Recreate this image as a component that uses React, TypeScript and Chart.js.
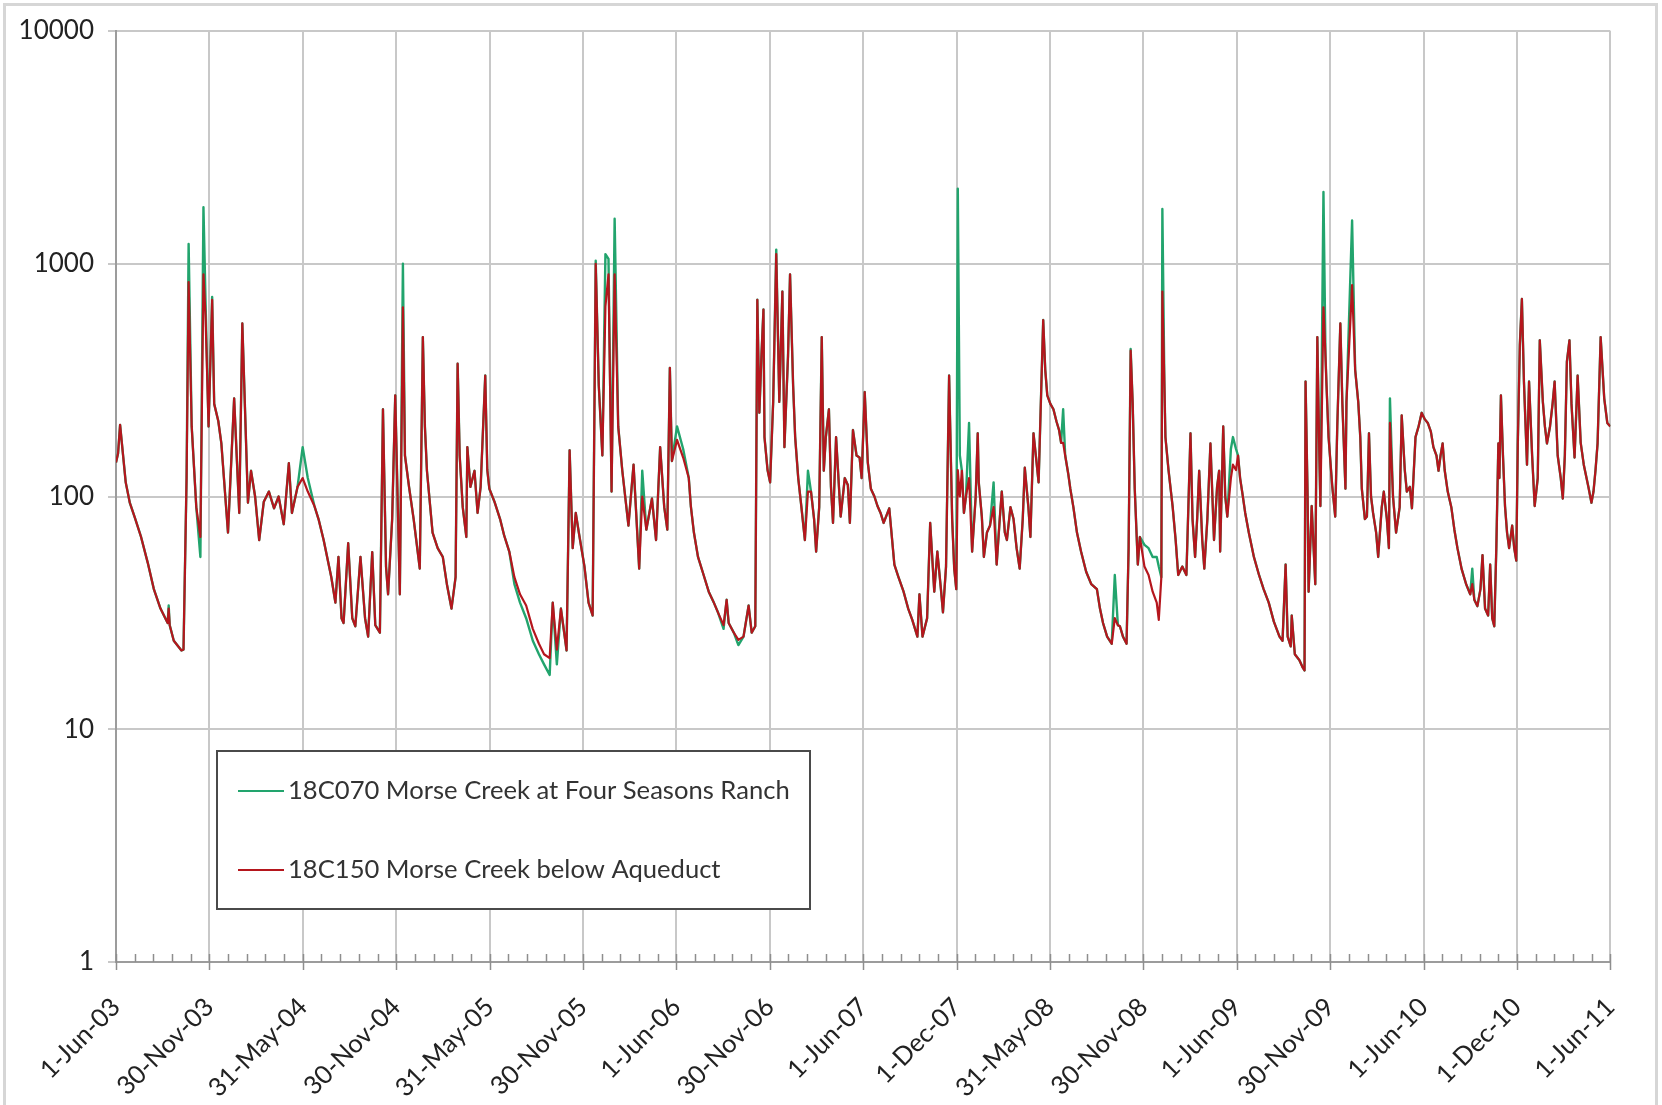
import React, { useEffect, useRef } from "react";
import { Chart, registerables } from "chart.js";

Chart.register(...registerables);

// Daily discharge, Morse Creek gauges, 1 Jun 2003 – 1 Jun 2011 (log scale)
const seriesNames = [
  "18C070 Morse Creek at Four Seasons Ranch",
  "18C150 Morse Creek below Aqueduct",
];
const seriesColors = ["#22a46d", "#b5161d"];

const dateLabels = [
  "1-Jun-03", "30-Nov-03", "31-May-04", "30-Nov-04", "31-May-05", "30-Nov-05",
  "1-Jun-06", "30-Nov-06", "1-Jun-07", "1-Dec-07", "31-May-08", "30-Nov-08",
  "1-Jun-09", "30-Nov-09", "1-Jun-10", "1-Dec-10", "1-Jun-11",
];
const totalDays = 2922; // 1-Jun-03 .. 1-Jun-11
const yTickValues = [1, 10, 100, 1000, 10000];

// days since 1-Jun-03
const dayOffsets = [
  0, 4, 8, 19, 27, 37, 49, 62, 74, 87,
  101, 103, 105, 113, 128, 132, 138, 142, 148, 157,
  165, 171, 175, 181, 188, 192, 200, 206, 219, 231,
  241, 247, 258, 264, 272, 280, 289, 299, 309, 318,
  328, 338, 344, 355, 365, 375, 388, 396, 406, 421,
  429, 435, 441, 445, 454, 462, 468, 478, 487, 493,
  501, 507, 516, 522, 528, 532, 540, 546, 555, 561,
  565, 573, 582, 594, 600, 604, 608, 619, 629, 639,
  647, 656, 664, 668, 672, 678, 685, 687, 693, 701,
  707, 713, 722, 726, 730, 740, 751, 759, 769, 779,
  790, 802, 815, 827, 837, 848, 854, 862, 870, 881,
  887, 893, 899, 905, 916, 924, 932, 938, 944, 951,
  957, 963, 969, 975, 982, 990, 1002, 1012, 1023, 1029,
  1037, 1048, 1056, 1064, 1072, 1078, 1083, 1087, 1097, 1109,
  1120, 1124, 1130, 1138, 1149, 1159, 1169, 1177, 1188, 1194,
  1198, 1208, 1217, 1227, 1237, 1243, 1250, 1254, 1258, 1262,
  1266, 1268, 1274, 1279, 1285, 1291, 1297, 1303, 1307, 1314,
  1318, 1324, 1328, 1334, 1340, 1347, 1353, 1359, 1365, 1369,
  1375, 1380, 1384, 1388, 1394, 1398, 1402, 1408, 1417, 1425,
  1431, 1435, 1441, 1448, 1454, 1458, 1464, 1470, 1476, 1483,
  1489, 1495, 1501, 1512, 1522, 1530, 1540, 1549, 1557, 1567,
  1571, 1577, 1586, 1592, 1600, 1606, 1613, 1617, 1623, 1629,
  1635, 1639, 1643, 1646, 1650, 1654, 1658, 1662, 1668, 1674,
  1681, 1685, 1687, 1693, 1697, 1703, 1709, 1716, 1722, 1728,
  1732, 1738, 1742, 1749, 1755, 1761, 1767, 1773, 1777, 1784,
  1788, 1794, 1800, 1804, 1813, 1817, 1821, 1827, 1833, 1839,
  1844, 1848, 1852, 1856, 1862, 1866, 1872, 1879, 1887, 1897,
  1907, 1918, 1924, 1930, 1938, 1947, 1953, 1959, 1963, 1969,
  1976, 1980, 1984, 1988, 1992, 1998, 2002, 2011, 2019, 2027,
  2035, 2039, 2044, 2046, 2050, 2052, 2058, 2066, 2072, 2077,
  2085, 2093, 2101, 2105, 2110, 2114, 2118, 2124, 2128, 2134,
  2140, 2147, 2153, 2157, 2159, 2165, 2169, 2173, 2180, 2184,
  2190, 2194, 2198, 2202, 2208, 2215, 2225, 2235, 2244, 2254,
  2264, 2275, 2281, 2287, 2291, 2297, 2299, 2305, 2314, 2320,
  2324, 2326, 2330, 2332, 2338, 2345, 2349, 2353, 2355, 2361,
  2365, 2367, 2371, 2378, 2384, 2388, 2394, 2398, 2404, 2406,
  2417, 2423, 2429, 2433, 2436, 2442, 2446, 2450, 2454, 2458,
  2464, 2468, 2475, 2479, 2485, 2489, 2491, 2497, 2503, 2510,
  2514, 2520, 2524, 2530, 2534, 2541, 2547, 2553, 2559, 2565,
  2571, 2576, 2582, 2586, 2590, 2594, 2598, 2604, 2611, 2617,
  2623, 2631, 2640, 2648, 2652, 2656, 2662, 2668, 2672, 2677,
  2683, 2687, 2691, 2695, 2699, 2703, 2705, 2708, 2712, 2716,
  2720, 2724, 2730, 2734, 2738, 2741, 2745, 2749, 2753, 2759,
  2763, 2769, 2774, 2780, 2784, 2790, 2794, 2798, 2804, 2809,
  2813, 2819, 2825, 2829, 2833, 2837, 2842, 2846, 2852, 2858,
  2864, 2870, 2879, 2885, 2889, 2893, 2897, 2903, 2910, 2916,
  2922,
];

// 18C070 Morse Creek at Four Seasons Ranch
const flowFourSeasons = [
  140, 153, 203, 115, 94, 81, 67, 52, 40, 33,
  28.6, 34, 28, 24, 21.8, 22, 120, 1216, 200, 90,
  55, 1750, 700, 200, 720, 250, 211, 169, 70, 264,
  85, 554, 94, 129, 100, 65, 95, 105, 89, 100,
  76, 139, 85, 110, 163, 120, 91, 80, 65, 45,
  35, 55, 30, 28.6, 63, 30, 27.7, 55, 30, 25,
  57.7, 28, 26, 237, 50, 38, 80, 272, 38, 1000,
  150, 110, 80, 49, 484, 200, 129, 70, 60, 55,
  42, 33, 45, 372, 150, 90, 67, 163, 110, 129,
  85, 110, 331, 130, 108, 95, 80, 68, 58, 42,
  35, 30, 24, 21, 19, 17.1, 35, 19, 33, 21.8,
  158, 60, 85, 70, 50, 35, 30.8, 1030, 300, 150,
  1100, 1050, 105, 1560, 200, 129, 75, 137, 49, 129,
  72, 98, 65, 163, 90, 72, 357, 142, 200, 160,
  120, 91, 70, 55, 46, 39, 35, 31.8, 27, 36,
  28.6, 26, 23, 25, 34, 26, 27.7, 700, 229, 400,
  636, 180, 130, 115, 255, 1150, 255, 760, 163, 400,
  900, 300, 180, 120, 91, 65, 129, 105, 80, 58,
  90, 484, 129, 180, 237, 110, 77, 180, 82, 120,
  112, 77, 193, 150, 147, 120, 281, 140, 108, 100,
  91, 85, 77, 89, 51, 45, 39, 33, 29.5, 25,
  38, 25, 30, 77, 39, 58, 40, 31.8, 50, 331,
  80, 49, 40, 2100, 150, 129, 85, 100, 207, 58,
  100, 187, 115, 82, 55, 70, 75, 115, 51, 80,
  105, 70, 65, 90, 80, 60, 49, 80, 133, 90,
  67, 187, 140, 115, 573, 350, 272, 250, 237, 210,
  193, 170, 237, 150, 125, 108, 90, 70, 58, 47.5,
  42, 40, 33, 28.6, 25, 23.3, 46, 28, 27.7, 25,
  23.3, 60, 430, 250, 108, 51, 67, 62, 60, 55,
  55, 50, 45, 1720, 300, 180, 130, 91, 65, 46,
  50, 46, 187, 80, 55, 80, 129, 65, 49, 80,
  169, 65, 110, 129, 58, 200, 100, 82, 160, 180,
  160, 150, 120, 105, 85, 70, 55, 46, 40, 35,
  29, 25, 24, 51, 25, 22.7, 30.8, 21, 19.8, 18.5,
  17.9, 312, 100, 39, 91, 42, 484, 150, 91, 2034,
  400, 300, 180, 112, 82, 200, 554, 250, 108, 255,
  1535, 350, 255, 180, 108, 80, 82, 187, 100, 85,
  70, 55, 90, 105, 80, 60, 264, 100, 70, 90,
  223, 130, 105, 110, 89, 180, 200, 229, 215, 207,
  190, 163, 150, 129, 150, 169, 130, 105, 90, 72,
  60, 49, 42, 38, 49, 36, 33.8, 40, 56, 33,
  30.8, 51, 30, 27.7, 60, 169, 120, 272, 150, 91,
  70, 60, 75, 60, 53, 169, 450, 706, 312, 137,
  312, 150, 91, 120, 469, 255, 200, 169, 200, 250,
  312, 150, 120, 98, 150, 380, 469, 250, 147, 331,
  170, 137, 110, 94, 105, 130, 169, 484, 264, 207,
  200,
];

// 18C150 Morse Creek below Aqueduct
const flowBelowAqueduct = [
  140, 153, 203, 115, 94, 81, 67, 52, 40, 33,
  28.6, 33, 28, 24, 21.8, 22, 120, 835, 200, 90,
  67, 900, 600, 200, 700, 250, 211, 169, 70, 264,
  85, 554, 94, 129, 100, 65, 95, 105, 89, 100,
  76, 139, 85, 110, 120, 105, 91, 80, 65, 45,
  35, 55, 30, 28.6, 63, 30, 27.7, 55, 30, 25,
  57.7, 28, 26, 237, 50, 38, 80, 272, 38, 650,
  150, 110, 80, 49, 484, 200, 129, 70, 60, 55,
  42, 33, 45, 372, 150, 90, 67, 163, 110, 129,
  85, 110, 331, 130, 108, 95, 80, 68, 58, 45,
  38, 34, 27, 23.3, 21, 20.2, 35, 22, 33, 21.8,
  158, 60, 85, 70, 50, 35, 30.8, 1000, 300, 150,
  656, 900, 105, 900, 200, 129, 75, 137, 49, 100,
  72, 98, 65, 163, 90, 72, 357, 142, 175, 147,
  120, 91, 70, 55, 46, 39, 35, 31.8, 28, 36,
  28.6, 26, 24.2, 25, 34, 26, 27.7, 700, 229, 400,
  636, 180, 130, 115, 255, 1100, 255, 760, 163, 400,
  900, 300, 180, 120, 91, 65, 105, 105, 80, 58,
  90, 484, 129, 180, 237, 110, 77, 180, 82, 120,
  112, 77, 193, 150, 147, 120, 281, 140, 108, 100,
  91, 85, 77, 89, 51, 45, 39, 33, 29.5, 25,
  38, 25, 30, 77, 39, 58, 40, 31.8, 50, 331,
  80, 49, 40, 130, 100, 129, 85, 100, 120, 58,
  100, 187, 115, 82, 55, 70, 75, 90, 51, 80,
  105, 70, 65, 90, 80, 60, 49, 80, 133, 90,
  67, 187, 140, 115, 573, 350, 272, 250, 237, 210,
  193, 170, 170, 150, 125, 108, 90, 70, 58, 47.5,
  42, 40, 33, 28.6, 25, 23.3, 30, 28, 27.7, 25,
  23.3, 60, 423, 250, 108, 51, 67, 50, 46, 39,
  35, 29.5, 45, 760, 300, 180, 130, 91, 65, 46,
  50, 46, 187, 80, 55, 80, 129, 65, 49, 80,
  169, 65, 110, 129, 58, 200, 100, 82, 120, 137,
  130, 150, 120, 105, 85, 70, 55, 46, 40, 35,
  29, 25, 24, 51, 25, 22.7, 30.8, 21, 19.8, 18.5,
  17.9, 312, 100, 39, 91, 42, 484, 150, 91, 650,
  400, 300, 180, 112, 82, 200, 554, 250, 108, 255,
  809, 350, 255, 180, 108, 80, 82, 187, 100, 85,
  70, 55, 90, 105, 80, 60, 207, 100, 70, 90,
  223, 130, 105, 110, 89, 180, 200, 229, 215, 207,
  190, 163, 150, 129, 150, 169, 130, 105, 90, 72,
  60, 49, 42, 38, 42, 36, 33.8, 40, 56, 33,
  30.8, 51, 30, 27.7, 60, 169, 120, 272, 150, 91,
  70, 60, 75, 60, 53, 169, 450, 706, 312, 137,
  312, 150, 91, 120, 469, 255, 200, 169, 200, 250,
  312, 150, 120, 98, 150, 380, 469, 250, 147, 331,
  170, 137, 110, 94, 105, 130, 169, 484, 264, 207,
  200,
];

const FONT = "Lato, 'Open Sans', sans-serif";

// white page with a thin grey frame around the whole figure
const framePlugin = {
  id: "frame",
  beforeDraw(chart: any) {
    const { ctx, width, height } = chart;
    ctx.save();
    ctx.fillStyle = "#ffffff";
    ctx.fillRect(0, 0, width, height);
    ctx.strokeStyle = "#d6d6d6";
    ctx.lineWidth = 3;
    ctx.strokeRect(4.5, 4.5, width - 10, height + 10);
    ctx.restore();
  },
};

// major (crossing) and minor tick marks on the date axis
const dateTicksPlugin = {
  id: "dateTicks",
  afterDraw(chart: any) {
    const { ctx, chartArea } = chart;
    const xs = chart.scales.x;
    const y0 = chartArea.bottom;
    const step = totalDays / (dateLabels.length - 1);
    ctx.save();
    ctx.strokeStyle = "#8e8e8e";
    ctx.lineWidth = 1.5;
    ctx.beginPath();
    for (let k = 0; k < dateLabels.length; k++) {
      const px = Math.round(xs.getPixelForValue(k * step)) + 0.5;
      ctx.moveTo(px, y0 - 8);
      ctx.lineTo(px, y0 + 8);
      if (k < dateLabels.length - 1) {
        for (let j = 1; j < 5; j++) {
          const mx = Math.round(xs.getPixelForValue(k * step + (j * step) / 5)) + 0.5;
          ctx.moveTo(mx, y0 - 8);
          ctx.lineTo(mx, y0);
        }
      }
    }
    ctx.stroke();
    ctx.restore();
  },
};

// boxed legend inside the lower-left part of the plot
const legendBoxPlugin = {
  id: "legendBox",
  afterDraw(chart: any) {
    const { ctx, chartArea } = chart;
    const bx = chartArea.left + 101;
    const by = chartArea.top + 720;
    const bw = 593;
    const bh = 158;
    ctx.save();
    ctx.fillStyle = "#ffffff";
    ctx.fillRect(bx, by, bw, bh);
    ctx.strokeStyle = "#4a4a4a";
    ctx.lineWidth = 2;
    ctx.strokeRect(bx, by, bw, bh);
    ctx.font = `25.6px ${FONT}`;
    ctx.textBaseline = "middle";
    ctx.textAlign = "left";
    const rows = [by + 40, by + 119];
    chart.data.datasets.forEach((ds: any, i: number) => {
      const ry = rows[i];
      ctx.strokeStyle = ds.borderColor;
      ctx.lineWidth = 2;
      ctx.beginPath();
      ctx.moveTo(bx + 21, ry);
      ctx.lineTo(bx + 67, ry);
      ctx.stroke();
      ctx.fillStyle = "#333333";
      ctx.fillText(ds.label, bx + 71, ry);
    });
    ctx.restore();
  },
};

export default function App() {
  const canvasRef = useRef<HTMLCanvasElement>(null);

  useEffect(() => {
    document.body.style.margin = "0";
    const canvas = canvasRef.current;
    if (!canvas) return;

    const toPoints = (values: number[]) =>
      dayOffsets.map((d, i) => ({ x: d, y: values[i] }));

    const chart = new Chart(canvas, {
      type: "line",
      data: {
        datasets: [
          {
            label: seriesNames[0],
            data: toPoints(flowFourSeasons),
            borderColor: seriesColors[0],
            backgroundColor: seriesColors[0],
            borderWidth: 2.4,
            borderJoinStyle: "round",
            pointRadius: 0,
            tension: 0,
            order: 2,
          },
          {
            label: seriesNames[1],
            data: toPoints(flowBelowAqueduct),
            borderColor: seriesColors[1],
            backgroundColor: seriesColors[1],
            borderWidth: 2.2,
            borderJoinStyle: "round",
            pointRadius: 0,
            tension: 0,
            order: 1,
          },
        ],
      },
      options: {
        responsive: false,
        maintainAspectRatio: false,
        animation: false,
        events: [],
        layout: { padding: { top: 31, right: 47, left: 0, bottom: 0 } },
        plugins: {
          legend: { display: false },
          tooltip: { enabled: false },
        },
        scales: {
          x: {
            type: "linear",
            min: 0,
            max: totalDays,
            afterBuildTicks: (scale: any) => {
              const step = totalDays / (dateLabels.length - 1);
              scale.ticks = dateLabels.map((_, i) => ({ value: i * step }));
            },
            afterFit: (scale: any) => {
              scale.height = 143;
            },
            ticks: {
              autoSkip: false,
              maxRotation: 45,
              minRotation: 45,
              padding: 30,
              color: "#222222",
              font: { family: FONT, size: 25.5 },
              callback: (_v: any, i: number) => dateLabels[i],
            },
            grid: { color: "#c8c8c8", lineWidth: 2, drawTicks: false },
            border: { color: "#9c9c9c", width: 2 },
          },
          y: {
            type: "logarithmic",
            min: 1,
            max: 10000,
            afterBuildTicks: (scale: any) => {
              scale.ticks = yTickValues.map((v) => ({ value: v }));
            },
            afterFit: (scale: any) => {
              scale.width = 116;
            },
            ticks: {
              padding: 14,
              color: "#222222",
              font: { family: FONT, size: 26 },
              callback: (v: any) => String(v),
            },
            grid: { color: "#c8c8c8", lineWidth: 2, tickLength: 8 },
            border: { color: "#9c9c9c", width: 2 },
          },
        },
      },
      plugins: [framePlugin, dateTicksPlugin, legendBoxPlugin],
    } as any);

    return () => chart.destroy();
  }, []);

  return (
    <div style={{ width: 1662, height: 1105, background: "#ffffff" }}>
      <canvas
        ref={canvasRef}
        width={1662}
        height={1105}
        style={{ display: "block", width: 1662, height: 1105 }}
      />
    </div>
  );
}
